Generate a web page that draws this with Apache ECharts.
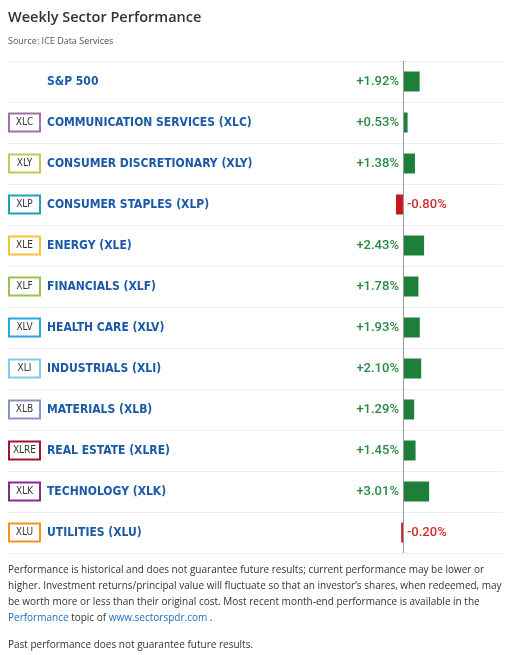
<!DOCTYPE html>
<html>
<head>
<meta charset="utf-8">
<script src="https://cdn.jsdelivr.net/npm/echarts@6/dist/echarts.min.js"></script>
<style>
html,body{margin:0;padding:0;background:#fff;}
#c{width:511px;height:655px;}
</style>
</head>
<body>
<div id="c"></div>
<script>
var tickers = ['', 'XLC', 'XLY', 'XLP', 'XLE', 'XLF', 'XLV', 'XLI', 'XLB', 'XLRE', 'XLK', 'XLU'];
var names = ['S&P 500', 'COMMUNICATION SERVICES (XLC)', 'CONSUMER DISCRETIONARY (XLY)', 'CONSUMER STAPLES (XLP)',
  'ENERGY (XLE)', 'FINANCIALS (XLF)', 'HEALTH CARE (XLV)', 'INDUSTRIALS (XLI)', 'MATERIALS (XLB)',
  'REAL ESTATE (XLRE)', 'TECHNOLOGY (XLK)', 'UTILITIES (XLU)'];
var values = [1.92, 0.53, 1.38, -0.80, 2.43, 1.78, 1.93, 2.10, 1.29, 1.45, 3.01, -0.20];
var boxColors = ['rgba(0,0,0,0)', '#a271a9', '#c6c65a', '#1ca3b6', '#f7c33a', '#9cc34e', '#27a8df', '#8dc7ea',
  '#8a93c5', '#a3142f', '#8c2b8e', '#f6921e'];
var footerLines = [
  'Performance is historical and does not guarantee future results; current performance may be lower or',
  'higher. Investment returns/principal value will fluctuate so that an investor\u2019s shares, when redeemed, may',
  'be worth more or less than their original cost. Most recent month-end performance is available in the',
  '{a|Performance} topic of {a|www.sectorspdr.com} .',
  'Past performance does not guarantee future results.'
];

var GREEN = '#1e7f3b', GREEN_TXT = '#2a8a44', RED = '#c8161d', RED_TXT = '#d22b2b';
var FF = '"Liberation Sans Narrow", "DejaVu Sans Condensed", sans-serif';

var rich = {
  name: { color: '#1b59a7', fontFamily: FF, fontWeight: 'bold', fontSize: 12, padding: [0, 0, 0, 7] }
};
tickers.forEach(function (t, i) {
  rich['b' + i] = {
    width: 31, height: 18, align: 'center', borderColor: boxColors[i], borderWidth: 2,
    color: '#333', fontSize: 10, fontFamily: FF
  };
});

var barData = values.map(function (v) {
  var pos = v >= 0;
  return {
    value: v,
    itemStyle: { color: pos ? GREEN : RED },
    label: {
      show: true,
      position: pos ? 'left' : 'right',
      distance: 4,
      color: pos ? GREEN_TXT : RED_TXT,
      fontFamily: 'Roboto, sans-serif',
      fontWeight: 500,
      fontSize: 13,
      formatter: function (p) { return (p.value > 0 ? '+' : '') + p.value.toFixed(2) + '%'; }
    }
  };
});

var graphics = [
  { type: 'text', left: 8, top: 10, style: { text: 'Weekly Sector Performance', fill: '#333',
    font: '600 14.5px "Open Sans", sans-serif' } },
  { type: 'text', left: 8, top: 37, style: { text: 'Source: ICE Data Services', fill: '#555',
    font: '9px "Open Sans", sans-serif' } }
];
var ys = [565, 581, 597, 613, 640];
footerLines.forEach(function (line, i) {
  graphics.push({ type: 'text', left: 8, top: ys[i], style: {
    text: line, fill: '#333', font: '10px "Open Sans", sans-serif',
    rich: { a: { fill: '#1a6ec0', font: '10px "Open Sans", sans-serif' } }
  } });
});

var chart = echarts.init(document.getElementById('c'));
chart.setOption({
  animation: false,
  backgroundColor: '#fff',
  grid: { left: 8, right: 8, top: 61, bottom: 102 },
  xAxis: { type: 'value', min: -45.4, max: 11.5, show: false },
  yAxis: {
    type: 'category', inverse: true, data: names,
    axisLine: { show: false }, axisTick: { show: false },
    splitLine: { show: true, lineStyle: { color: '#ececec', width: 1 } },
    axisLabel: {
      inside: true, margin: 1,
      formatter: function (val, idx) {
        return '{b' + idx + '|' + tickers[idx] + '}{name|' + val + '}';
      },
      rich: rich
    }
  },
  series: [{
    type: 'bar', data: barData, barWidth: 20,
    markLine: {
      silent: true, symbol: 'none', label: { show: false },
      lineStyle: { color: '#9a9a9a', type: 'solid', width: 1 },
      data: [{ xAxis: 0 }]
    }
  }],
  graphic: graphics
});
</script>
</body>
</html>
